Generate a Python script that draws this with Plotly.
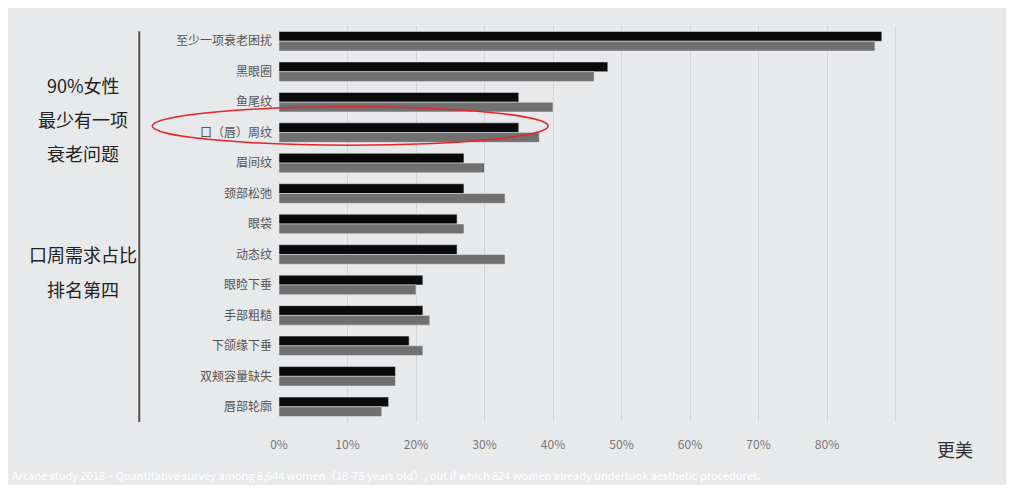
import plotly.graph_objects as go

categories = ["至少一项衰老困扰", "黑眼圈", "鱼尾纹", "口（唇）周纹", "眉间纹", "颈部松弛",
              "眼袋", "动态纹", "眼睑下垂", "手部粗糙", "下颌缘下垂", "双颊容量缺失", "唇部轮廓"]
black_vals = [0.88, 0.48, 0.35, 0.35, 0.27, 0.27, 0.26, 0.26, 0.21, 0.21, 0.19, 0.17, 0.16]
gray_vals = [0.87, 0.46, 0.40, 0.38, 0.30, 0.33, 0.27, 0.33, 0.20, 0.22, 0.21, 0.17, 0.15]
tick_vals = [0, 0.1, 0.2, 0.3, 0.4, 0.5, 0.6, 0.7, 0.8, 0.9, 1.0]
tick_text = ["0%", "10%", "20%", "30%", "40%", "50%", "60%", "70%", "80%", "", ""]

bg = "#e8e9eb"
font = "Noto Sans CJK SC"

fig = go.Figure()
fig.add_trace(go.Bar(y=categories, x=black_vals, orientation="h", marker_color="#0a0a0a"))
fig.add_trace(go.Bar(y=categories, x=gray_vals, orientation="h", marker_color="#707070"))

fig.update_layout(
    width=998, height=477, paper_bgcolor=bg, plot_bgcolor=bg,
    margin=dict(l=271, r=42, t=18, b=63),
    barmode="group", bargap=0.36, bargroupgap=0.0, showlegend=False,
    font=dict(family=font, color="#555555", size=12),
)
fig.update_yaxes(autorange="reversed", ticks="", ticklabelstandoff=6,
                 tickfont=dict(size=12, color="#555555"))
fig.update_xaxes(range=[0, 1.0], tickvals=tick_vals, ticktext=tick_text,
                 showgrid=True, gridcolor="#d4d5d8", zeroline=False,
                 ticklabelstandoff=14, tickfont=dict(size=12, color="#777777"))

# left bracket line
fig.add_shape(type="line", xref="paper", yref="paper", x0=-0.204, x1=-0.204,
              y0=0.0, y1=0.987, line=dict(color="#555555", width=2))
# red ellipse
fig.add_shape(type="circle", xref="paper", yref="paper", x0=-0.185, x1=0.393,
              y0=0.699, y1=0.796, line=dict(color="#e8242a", width=1.5))

left_lines = [("90%女性", 0.89), ("最少有一项", 0.803), ("衰老问题", 0.717),
              ("口周需求占比", 0.423), ("排名第四", 0.337)]
for txt, yy in left_lines:
    fig.add_annotation(text=txt, xref="paper", yref="paper", x=-0.286, y=yy,
                       showarrow=False, xanchor="center",
                       font=dict(size=18, color="#222222", family=font))

fig.add_annotation(text="Arcane study 2018 – Quantitative survey among 8,644 women（18-75 years old）, out if which 824 women already undertook aesthetic procedures.",
                   xref="paper", yref="paper", x=-0.393, y=-0.158, xanchor="left",
                   showarrow=False, font=dict(size=11, color="#ffffff", family=font))
fig.add_annotation(text="更美", xref="paper", yref="paper", x=0.987, y=-0.105,
                   xanchor="center", showarrow=False,
                   font=dict(size=18, color="#333333", family=font))

fig.write_html("out.html")
